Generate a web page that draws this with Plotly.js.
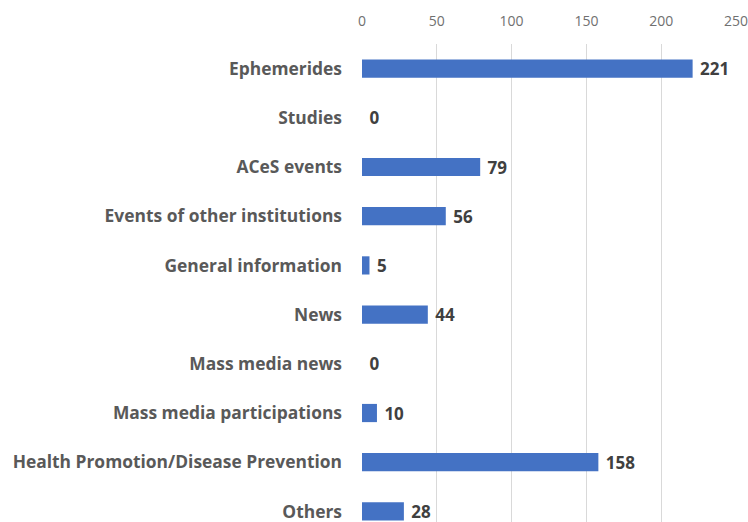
<!DOCTYPE html>
<html><head><meta charset="utf-8">
<script src="https://cdn.plot.ly/plotly-3.0.1.min.js"></script>
<style>html,body{margin:0;padding:0;background:#fff;}#chart{width:748px;height:522px;}</style>
</head><body><div id="chart"></div>
<script>
const categories = ["Ephemerides","Studies","ACeS events","Events of other institutions","General information","News","Mass media news","Mass media participations","Health Promotion/Disease Prevention","Others"];
const values = [221,0,79,56,5,44,0,10,158,28];
const xTicks = [0,50,100,150,200,250];

Plotly.newPlot('chart',[{
  type:'bar', orientation:'h',
  y: categories, x: values,
  marker:{color:'#4472C4'},
  width:0.37,
  text: values.map(v=>'\u00a0'+v),
  textposition:'outside',
  constraintext:'none',
  cliponaxis:false,
  textfont:{family:'Open Sans, sans-serif', size:17, color:'#404040', weight:700},
  hoverinfo:'none'
}],{
  width:748, height:522,
  margin:{l:362,r:12,t:44,b:0},
  paper_bgcolor:'#fff', plot_bgcolor:'#fff',
  showlegend:false,
  xaxis:{side:'top', range:[0,250], tickvals:xTicks, ticktext:xTicks.map(String),
    showgrid:true, gridcolor:'#d9d9d9', gridwidth:1, zeroline:false,
    showline:false, ticks:'', ticklabelstandoff:14, ticklabeloverflow:'allow',
    tickfont:{family:'Open Sans, sans-serif', size:14, color:'#707070'}, fixedrange:true},
  yaxis:{type:'category', range:[9.215,-0.5], showgrid:false, zeroline:false, showline:false, ticks:'',
    ticklabelstandoff:19,
    tickfont:{family:'Open Sans, sans-serif', size:17.4, color:'#595959', weight:700}, fixedrange:true}
},{staticPlot:true});
</script></body></html>
